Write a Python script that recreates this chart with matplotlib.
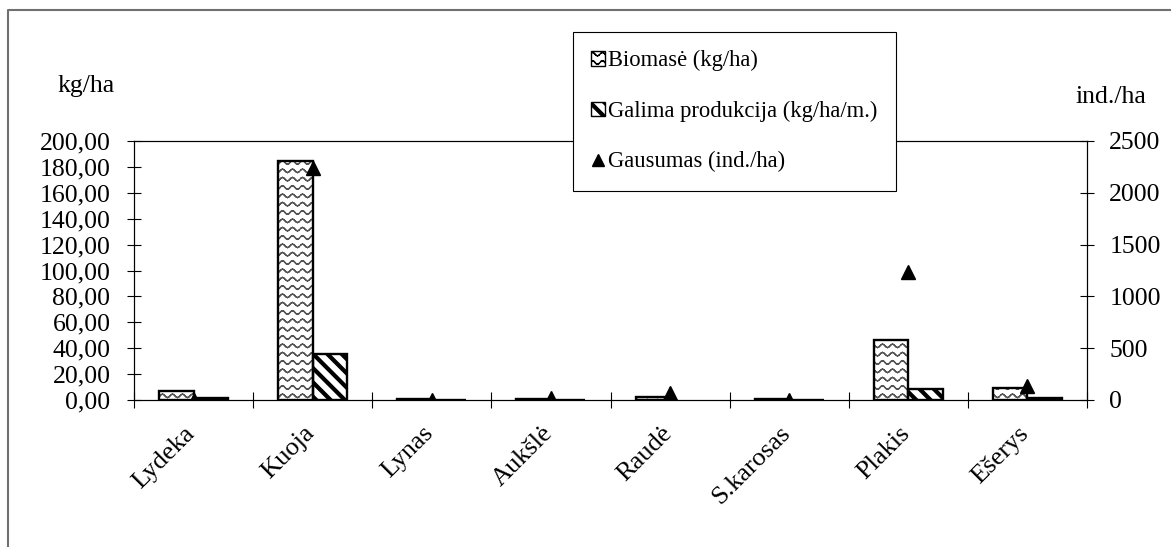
import warnings
warnings.filterwarnings('ignore')
import numpy as np
import matplotlib
matplotlib.use('Agg')
import matplotlib.pyplot as plt
import matplotlib.hatch as mhatch
import matplotlib.transforms as mtransforms
from matplotlib.path import Path
from matplotlib.patches import Patch
from matplotlib.lines import Line2D
from matplotlib.ticker import FixedLocator, FuncFormatter

# ---------------- data ----------------
categories = ['Lydeka', 'Kuoja', 'Lynas', 'Aukšlė', 'Raudė', 'S.karosas', 'Plakis', 'Ešerys']
biomass = [7.0, 184.7, 0.8, 0.5, 2.6, 0.4, 46.0, 9.0]          # kg/ha
production = [1.2, 35.9, 0.3, 0.2, np.nan, 0.1, 8.5, 1.8]     # kg/ha/m.
abundance = [3, 2240, 3, 17, 70, 2, 1240, 138]                # ind./ha
left_ticks = [0, 20, 40, 60, 80, 100, 120, 140, 160, 180, 200]
right_ticks = [0, 500, 1000, 1500, 2000, 2500]
legend_labels = ['Biomasė (kg/ha)', 'Galima produkcija (kg/ha/m.)', 'Gausumas (ind./ha)']
left_unit = 'kg/ha'
right_unit = 'ind./ha'


# ---------------- custom hatch patterns ----------------
class WaveHatch(mhatch.HatchPatternBase):
    rows = 12
    periods = 10
    seg_per_period = 8
    amp = 0.017

    def __init__(self, hatch, density):
        on = '~' in hatch
        self.nseg = self.rows * self.periods * self.seg_per_period if on else 0
        self.num_vertices = self.nseg * 2

    def set_vertices_and_codes(self, vertices, codes):
        n = self.periods * self.seg_per_period
        xs = np.linspace(0, 1, n + 1)
        out = []
        for r in range(self.rows):
            y0 = (r + 0.5) / self.rows
            ys = y0 + self.amp * np.sin(2 * np.pi * self.periods * xs)
            pts = np.column_stack([xs, ys])
            seg = np.empty((n * 2, 2))
            seg[0::2] = pts[:-1]
            seg[1::2] = pts[1:]
            out.append(seg)
        vertices[:] = np.vstack(out)
        codes[0::2] = Path.MOVETO
        codes[1::2] = Path.LINETO


class StripeHatch(mhatch.HatchPatternBase):
    n = 7
    t = 0.04

    def __init__(self, hatch, density):
        on = 'z' in hatch
        self.ms = list(range(-1, 2 * self.n + 1)) if on else []
        self.num_vertices = len(self.ms) * 5

    def set_vertices_and_codes(self, vertices, codes):
        t = self.t
        for i, m in enumerate(self.ms):
            c = m / self.n
            vertices[i * 5:(i + 1) * 5] = [(c - 1.5, 1.5), (c + 0.5, -0.5),
                                           (c + 0.5 + t, -0.5), (c - 1.5 + t, 1.5),
                                           (c - 1.5, 1.5)]
            codes[i * 5:(i + 1) * 5] = [Path.MOVETO, Path.LINETO, Path.LINETO,
                                        Path.LINETO, Path.CLOSEPOLY]


mhatch._hatch_types.extend([WaveHatch, StripeHatch])

# ---------------- figure ----------------
plt.rcParams['font.family'] = ['Liberation Serif', 'DejaVu Serif']
plt.rcParams['hatch.linewidth'] = 1.0

W, H = 1171, 547
fig = plt.figure(figsize=(W / 100, H / 100), dpi=100)
ax = fig.add_axes([134 / W, 1 - 400 / H, (1087 - 134) / W, (400 - 141) / H])

x = np.arange(len(categories))
w = 0.29

ax.bar(x - w / 2, biomass, w, color='white', edgecolor='#555555', linewidth=0,
       hatch='~', zorder=2)
ax.bar(x - w / 2, biomass, w, fill=False, edgecolor='black', linewidth=1.7, zorder=3)
ax.bar(x + w / 2, production, w, color='white', edgecolor='black', linewidth=0,
       hatch='z', zorder=2)
ax.bar(x + w / 2, production, w, fill=False, edgecolor='black', linewidth=1.7, zorder=3)

ax.set_xlim(-0.5, len(categories) - 0.5)
ax.set_ylim(left_ticks[0], left_ticks[-1])
ax.yaxis.set_major_locator(FixedLocator(left_ticks))
ax.yaxis.set_major_formatter(FuncFormatter(lambda v, p: f'{v:.2f}'.replace('.', ',')))
ax.tick_params(axis='y', direction='inout', length=10, width=0.8, labelsize=18.5,
               pad=12, colors='black')

ax.set_xticks(x)
ax.set_xticklabels(categories, rotation=45, ha='right', va='top', fontsize=19)
ax.set_xticks(np.arange(-0.5, len(categories), 1.0), minor=True)
ax.tick_params(axis='x', which='major', length=0, pad=16)
ax.tick_params(axis='x', which='minor', direction='inout', length=11, width=0.8)
offset = mtransforms.ScaledTranslation(6 / 100, 0, fig.dpi_scale_trans)
for lbl in ax.get_xticklabels():
    lbl.set_transform(lbl.get_transform() + offset)

ax2 = ax.twinx()
ax2.plot(x, abundance, linestyle='none', marker='^', markersize=10, color='black',
         zorder=5)
ax2.set_ylim(right_ticks[0], right_ticks[-1])
ax2.yaxis.set_major_locator(FixedLocator(right_ticks))
ax2.tick_params(axis='y', direction='inout', length=10, width=0.8, labelsize=18.5,
                pad=11)

for a in (ax, ax2):
    for s in a.spines.values():
        s.set_linewidth(0.8)
        s.set_color('black')

fig.text(57 / W, 1 - 92 / H, left_unit, ha='left', va='baseline', fontsize=18.5)
fig.text(1075 / W, 1 - 103 / H, right_unit, ha='left', va='baseline', fontsize=18.5)

handles = [Patch(facecolor='white', edgecolor='black', hatch='~', linewidth=1.0),
           Patch(facecolor='white', edgecolor='black', hatch='z', linewidth=1.0),
           Line2D([], [], linestyle='none', marker='^', color='black', markersize=9)]
leg = fig.legend(handles, legend_labels, loc='upper left',
                 bbox_to_anchor=(573 / W, 1 - 32 / H), frameon=True, fancybox=False,
                 edgecolor='black', framealpha=1, fontsize=16.3, handlelength=0.6,
                 handleheight=0.6, handletextpad=0.15, labelspacing=1.3,
                 borderpad=0.8, borderaxespad=0)
leg.get_frame().set_linewidth(0.8)

fig.add_artist(Line2D([8 / W, 8 / W, 1.0], [0.0, 1 - 10 / H, 1 - 10 / H],
                      transform=fig.transFigure, color='#707070', linewidth=1.5))

fig.savefig('out.png', dpi=100)
